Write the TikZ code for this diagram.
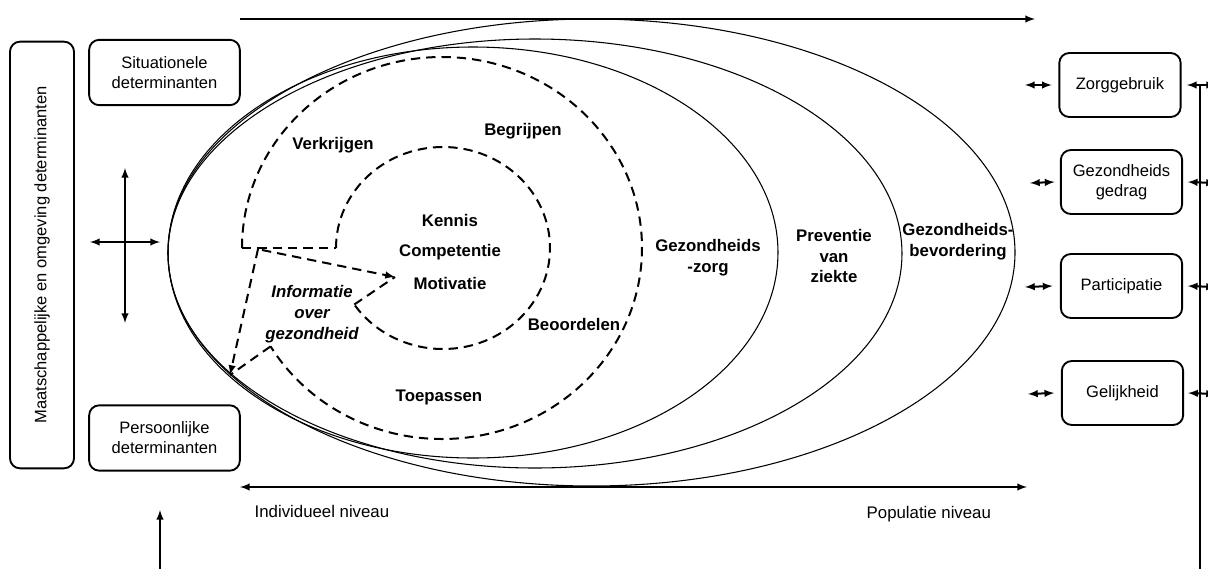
\documentclass[tikz,border=0pt]{standalone}
\usepackage{fontspec}
\setmainfont{Liberation Sans}
\usepackage{tikz}
\usetikzlibrary{arrows}
\tikzstyle{detbox}=[draw=black, line width=1.4pt, rounded corners=7.5pt, align=center, minimum width=113pt, minimum height=49pt, font=\fontsize{12.4}{15}\selectfont]
\tikzstyle{uitkomst}=[detbox, minimum width=91pt, minimum height=48pt]
\tikzstyle{pijl}=[line width=1.5pt]
\tikzstyle{stip}=[line width=1.5pt, dash pattern=on 7pt off 4.5pt]
\tikzstyle{vet}=[font=\fontsize{12.6}{15.5}\selectfont\bfseries, align=center]
\tikzstyle{gewoon}=[font=\fontsize{12.6}{15}\selectfont]

\begin{document}
\begin{tikzpicture}[x=0.75pt,y=-0.75pt]
    \useasboundingbox (0,0) rectangle (1208,569);

    % determinanten links
    \node[detbox, rotate=90, minimum width=320pt, minimum height=48pt] (maatsch) at (42,255) {Maatschappelijke en omgeving determinanten};
    \node[detbox] (situatie) at (164.5,72.5) {Situationele\\determinanten};
    \node[detbox] (persoon) at (164.5,438) {Persoonlijke\\determinanten};

    \coordinate (kruisboven) at (125,168);
    \coordinate (kruisonder) at (125,323);
    \coordinate (kruislinks) at (90,242);
    \coordinate (kruisrechts) at (160,242);
    \draw[pijl, latex-latex] (kruisboven) -- (kruisonder);
    \draw[pijl, latex-latex] (kruislinks) -- (kruisrechts);

    \coordinate (onderstart) at (160,569);
    \coordinate (ondertip) at (160,510);
    \draw[pijl, -latex] (onderstart) -- (ondertip);

    % niveau pijlen
    \coordinate (bovenlinks) at (240,19);
    \coordinate (bovenrechts) at (1035,19);
    \draw[pijl, -latex] (bovenlinks) -- (bovenrechts);
    \coordinate (individu) at (240,487);
    \coordinate (populatie) at (1027,487);
    \draw[pijl, latex-latex] (individu) -- (populatie);
    \node[gewoon, anchor=west] (indtekst) at (250,511) {Individueel niveau};
    \node[gewoon, anchor=west] (poptekst) at (862,514) {Populatie niveau};

    % ellipsen
    \draw[line width=0.8pt] (591.5,252.5) ellipse [x radius=423.5, y radius=233.5];
    \draw[line width=0.8pt] (535,253.5) ellipse [x radius=367, y radius=214.5];
    \draw[line width=0.8pt] (473,252.5) ellipse [x radius=305, y radius=205.5];

    \node[vet] (zorglabel) at (708,258) {Gezondheids\\-zorg};
    \node[vet] (preventie) at (834,256) {Preventie\\van\\ziekte};
    \node[vet] (bevordering) at (958,242) {Gezondheids-\\bevordering};

    % gezondheidsvaardigheden
    \coordinate (infoPunt) at (230,375);
    \coordinate (motPunt) at (395,277);
    \draw[stip] (242,248) arc[start angle=180, end angle=509, x radius=200, y radius=191] coordinate (buitenEind);
    \draw[stip] (336,248) arc[start angle=180, end angle=506, x radius=107, y radius=101] coordinate (binnenEind);
    \draw[stip] (242,248) -- (336,248);
    \draw[stip, -latex] (258,249) -- (infoPunt);
    \draw[stip] (buitenEind) -- (infoPunt);
    \draw[stip, -latex] (262,250) -- (motPunt);
    \draw[stip] (binnenEind) -- (motPunt);

    \node[vet] (verkrijgen) at (333,145) {Verkrijgen};
    \node[vet] (begrijpen) at (523,131) {Begrijpen};
    \node[vet] (kennis) at (450,220) {Kennis};
    \node[vet] (competentie) at (450,252) {Competentie};
    \node[vet] (motivatie) at (450,283) {Motivatie};
    \node[vet] (beoordelen) at (574,324) {Beoordelen};
    \node[vet] (toepassen) at (439,397) {Toepassen};
    \node[vet, font=\fontsize{12.6}{15.5}\selectfont\bfseries\itshape] (informatie) at (312,314) {Informatie\\over\\gezondheid};

    % uitkomsten rechts
    \node[uitkomst] (zorg) at (1120,85) {Zorggebruik};
    \node[uitkomst] (gedrag) at (1121.5,182) {Gezondheids\\gedrag};
    \node[uitkomst] (partic) at (1121.5,286) {Participatie};
    \node[uitkomst] (gelijk) at (1122.5,393) {Gelijkheid};

    \coordinate (zorgL) at (1025,85);
    \coordinate (gedragL) at (1030,183);
    \coordinate (particL) at (1025,287);
    \coordinate (gelijkL) at (1028,394);
    \draw[pijl, latex-latex] (zorgL) -- ([xshift=-5pt]zorg.west);
    \draw[pijl, latex-latex] (gedragL) -- ([xshift=-4pt]gedrag.west);
    \draw[pijl, latex-latex] (particL) -- ([xshift=-5.5pt]partic.west);
    \draw[pijl, latex-latex] (gelijkL) -- ([xshift=-5pt]gelijk.west);

    \coordinate (lijnTop) at (1200,84);
    \coordinate (lijnBodem) at (1200,569);
    \draw[pijl] (lijnTop) -- (lijnBodem);
    \coordinate (zorgR) at (1216,85);
    \coordinate (gedragR) at (1216,183);
    \coordinate (particR) at (1216,287);
    \coordinate (gelijkR) at (1216,394);
    \draw[pijl, latex-latex] ([xshift=4pt]zorg.east) -- (zorgR);
    \draw[pijl, latex-latex] ([xshift=3.5pt]gedrag.east) -- (gedragR);
    \draw[pijl, latex-latex] ([xshift=3.5pt]partic.east) -- (particR);
    \draw[pijl, latex-latex] ([xshift=3pt]gelijk.east) -- (gelijkR);
  \end{tikzpicture}
\end{document}
